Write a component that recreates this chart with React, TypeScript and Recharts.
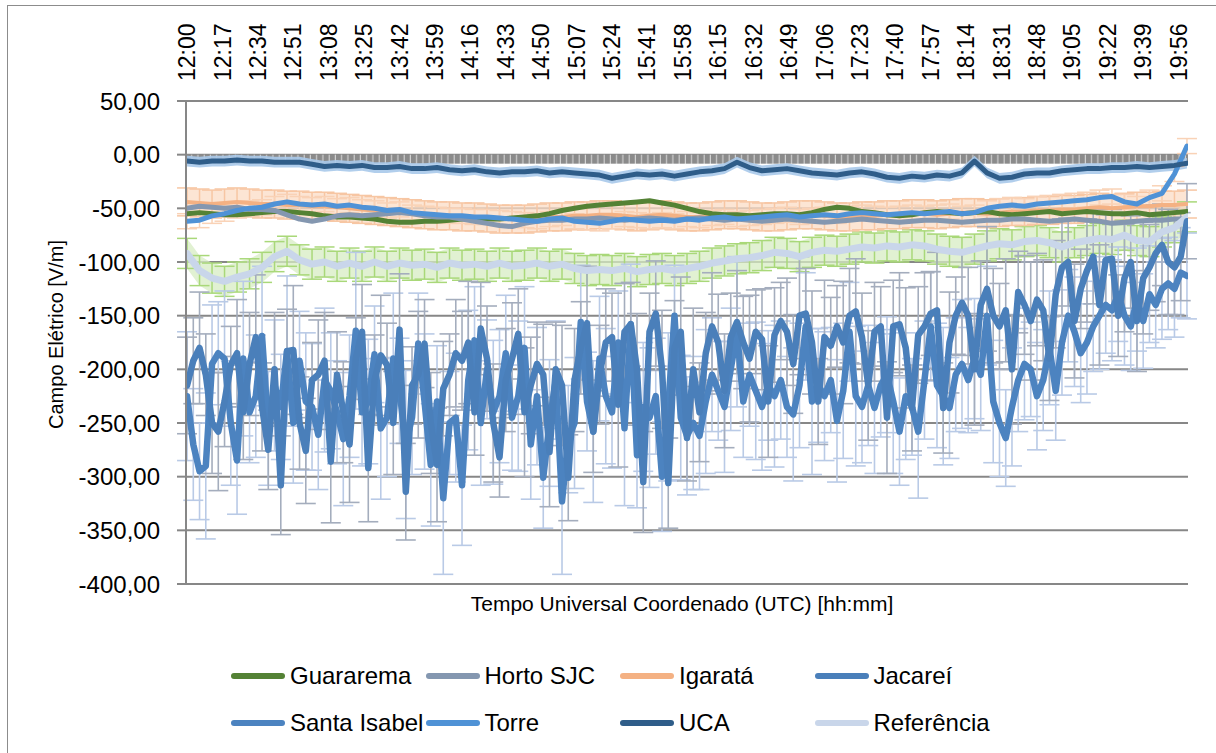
import React from 'react';
import {
  ComposedChart, Line, Area, XAxis, YAxis, CartesianGrid, ErrorBar, ReferenceArea, Legend, Label,
} from 'recharts';

const FONT = '"Liberation Sans", Arial, sans-serif';

// x tick labels (UTC)
const timeLabels = [
  '12:00', '12:17', '12:34', '12:51', '13:08', '13:25', '13:42', '13:59', '14:16', '14:33',
  '14:50', '15:07', '15:24', '15:41', '15:58', '16:15', '16:32', '16:49', '17:06', '17:23',
  '17:40', '17:57', '18:14', '18:31', '18:48', '19:05', '19:22', '19:39', '19:56',
];
const yTicks = [50, 0, -50, -100, -150, -200, -250, -300, -350, -400];

// smooth stations: one value every 6 minutes from 12:00 to 20:00
const SMOOTH_STEP = 6;
const guararema = [
  -55, -54, -55, -56, -56, -55, -54, -53, -53,
  -54, -55, -57, -58, -58, -59, -60, -62, -63,
  -63, -62, -62, -61, -60, -59, -60, -60, -59,
  -58, -57, -55, -52, -50, -48, -47, -46, -45,
  -44, -43, -45, -47, -50, -53, -55, -56, -56,
  -57, -56, -55, -55, -56, -54, -51, -49, -50,
  -53, -54, -56, -57, -56, -54, -53, -54, -55,
  -54, -53, -55, -56, -55, -54, -53, -55, -54,
  -53, -54, -55, -55, -54, -56, -55, -54, -53,
];
const hortoSJC = [
  -50, -48, -49, -50, -49, -51, -51, -52, -56,
  -60, -62, -60, -57, -56, -57, -56, -55, -54,
  -55, -57, -58, -58, -60, -62, -64, -66, -67,
  -64, -62, -61, -61, -60, -60, -59, -60, -61,
  -60, -59, -60, -61, -60, -59, -60, -61, -60,
  -61, -62, -61, -60, -61, -62, -63, -62, -61,
  -60, -61, -62, -63, -62, -61, -61, -62, -63,
  -62, -61, -61, -60, -60, -61, -62, -61, -60,
  -61, -62, -64, -63, -62, -61, -61, -60, -60,
];
const igarata = [
  -44, -45, -46, -45, -44, -45, -46, -46, -47,
  -47, -48, -48, -49, -50, -51, -52, -53, -54,
  -55, -56, -57, -57, -58, -58, -59, -60, -60,
  -60, -59, -58, -58, -57, -57, -56, -56, -57,
  -58, -57, -56, -57, -58, -58, -57, -56, -56,
  -57, -58, -58, -57, -56, -56, -57, -58, -58,
  -57, -57, -56, -56, -55, -55, -56, -55, -54,
  -54, -55, -54, -53, -53, -52, -52, -51, -51,
  -50, -49, -50, -49, -48, -48, -47, -47, -46,
];
const torre = [
  -62, -61, -57, -55, -52, -50, -49, -46, -44,
  -46, -47, -46, -48, -47, -49, -50, -52, -51,
  -54, -55, -56, -57, -57, -58, -58, -59, -60,
  -61, -62, -60, -59, -62, -63, -64, -62, -60,
  -61, -62, -61, -62, -60, -61, -59, -58, -60,
  -59, -58, -57, -56, -58, -57, -56, -57, -55,
  -54, -55, -56, -55, -54, -55, -54, -53, -55,
  -54, -50, -48, -47, -48, -46, -45, -44, -43,
  -42, -40, -39, -44, -46, -40, -36, -18, 8,
];
const uca = [
  -6, -7, -6, -6, -5, -6, -6, -7, -7,
  -7, -9, -11, -10, -11, -10, -12, -12, -11,
  -13, -13, -12, -14, -15, -14, -16, -17, -16,
  -16, -15, -17, -16, -17, -18, -19, -22, -20,
  -18, -19, -18, -20, -18, -16, -15, -13, -7,
  -12, -15, -14, -13, -15, -17, -18, -19, -17,
  -16, -18, -21, -22, -20, -21, -19, -20, -17,
  -6, -17, -22, -21, -18, -17, -17, -15, -14,
  -13, -13, -12, -12, -11, -12, -11, -10, -8,
];
const referencia = [
  -92, -108, -115, -118, -114, -111, -105, -95, -90,
  -98, -102, -100, -104, -101, -104, -100, -104, -101,
  -103, -102, -105, -101, -103, -102, -104, -101, -104,
  -103, -101, -104, -102, -106, -108, -107, -108, -106,
  -109, -107, -106, -108, -106, -104, -101, -99, -97,
  -96, -94, -91, -92, -95, -91, -89, -90, -88,
  -86, -87, -85, -86, -84, -85, -88, -90, -91,
  -88, -85, -83, -84, -81, -80, -82, -86, -82,
  -80, -78, -79, -75, -80, -81, -72, -68, -58,
];
const igarataErr = 13;
const torreErr = 7;
const ucaErr = 5;
const referenciaErr = 14;

// noisy stations: one value every 3 minutes from 12:00 to 20:00
const NOISY_STEP = 3;
const jacarei = [
  -215, -192, -180, -205, -250, -258, -230, -196, -185, -240,
  -195, -170, -235, -275, -200, -308, -183, -182, -250, -276,
  -210, -205, -192, -286, -205, -240, -270, -190, -165, -292,
  -210, -187, -196, -250, -163, -314, -215, -205, -176, -250,
  -289, -218, -205, -185, -192, -175, -240, -162, -190, -250,
  -282, -210, -190, -167, -240, -215, -195, -205, -277, -200,
  -215, -301, -210, -180, -157, -258, -205, -175, -170, -233,
  -165, -158, -200, -305, -165, -148, -200, -306, -180, -165,
  -264, -200, -240, -185, -160, -175, -220, -170, -156, -175,
  -190, -165, -172, -230, -168, -155, -165, -195, -150, -148,
  -175, -230, -170, -178, -160, -175, -150, -146, -170, -215,
  -165, -160, -245, -160, -158, -180, -236, -168, -160, -148,
  -145, -236, -175, -150, -138, -150, -200, -140, -125, -150,
  -160, -145, -200, -128, -140, -155, -135, -145, -190, -130,
  -105, -100, -155, -125, -108, -95, -140, -98, -97, -150,
  -115, -100, -155, -115, -105, -92, -84, -100, -105, -95,
  -62,
];
const santaIsabel = [
  -225, -270, -295, -290, -195, -185, -190, -250, -285, -190,
  -240, -225, -169, -255, -215, -235, -183, -250, -192, -230,
  -235, -261, -210, -220, -240, -265, -225, -164, -240, -230,
  -186, -255, -245, -190, -220, -270, -245, -176, -230, -289,
  -230, -320, -250, -245, -308, -210, -173, -250, -200, -240,
  -225, -185, -245, -225, -180, -270, -225, -301, -250, -210,
  -323, -265, -250, -156, -230, -258, -190, -225, -240, -175,
  -255, -158, -280, -235, -245, -225, -300, -235, -150, -245,
  -262, -250, -262, -230, -205, -220, -235, -200, -165, -230,
  -205, -220, -235, -215, -225, -210, -235, -242, -215, -160,
  -230, -215, -225, -210, -248, -220, -165, -225, -235, -215,
  -236, -215, -205, -230, -258, -225, -235, -258, -210, -160,
  -215, -225, -236, -205, -195, -210, -190, -205, -150, -230,
  -250, -264, -235, -210, -195, -200, -225, -210, -180, -220,
  -175, -150, -165, -185, -175, -160, -150, -140, -145, -130,
  -150, -160, -135, -155, -130, -140, -125, -120, -125, -110,
  -113,
];
const jacareiErr = [
  45, 40, 52, 38, 47, 55, 42, 36, 50, 44,
  48, 58, 41, 37, 53, 46, 39, 60, 43, 49,
  35, 51, 45, 57, 40, 47, 54, 38, 44, 50,
  42, 56, 39, 48, 52, 45, 36, 59, 41, 47,
  53, 44, 38, 50, 46, 57, 40, 43, 49, 55,
  37, 48, 52, 42, 60, 45, 39, 47, 51, 44,
  56, 40, 48, 43, 53, 38, 46, 50, 41, 58,
  45, 39, 52, 47, 36, 49, 55, 42, 44, 51,
  40, 57, 46, 38, 50, 45, 53, 41, 48, 43,
  59, 39, 47, 52, 44, 36, 50, 46, 55, 42,
  48, 40, 53, 45, 38, 57, 44, 49, 41, 51,
  46, 37, 52, 43, 48, 56, 40, 45, 50, 39,
  54, 42, 47, 36, 49, 45, 52, 41, 58, 44,
  40, 48, 51, 38, 46, 55, 43, 47, 39, 50,
  45, 41, 53, 37, 48, 44, 56, 42, 46, 38,
  50, 43, 47, 52, 40, 45, 38, 49, 44, 41,
  35,
];
const santaIsabelErr = [
  60, 52, 45, 68, 55, 48, 63, 58, 50, 72,
  47, 57, 65, 53, 61, 49, 70, 56, 46, 64,
  59, 51, 67, 54, 48, 62, 57, 73, 50, 58,
  45, 66, 55, 61, 49, 69, 53, 47, 63, 57,
  52, 71, 48, 60, 56, 65, 50, 58, 46, 67,
  62, 54, 49, 70, 57, 51, 64, 47, 59, 55,
  68, 50, 61, 53, 46, 66, 58, 63, 52, 48,
  72, 56, 49, 60, 65, 54, 51, 69, 47, 58,
  55, 62, 50, 67, 53, 46, 61, 57, 70, 52,
  48, 64, 59, 51, 66, 55, 47, 62, 58, 50,
  68, 53, 60, 49, 57, 63, 46, 65, 52, 56,
  61, 48, 54, 67, 50, 59, 45, 62, 55, 51,
  58, 64, 47, 53, 60, 49, 56, 52, 46, 57,
  50, 45, 55, 48, 52, 44, 50, 47, 53, 46,
  49, 43, 51, 46, 48, 42, 50, 45, 47, 44,
  46, 41, 48, 44, 45, 40, 47, 43, 45, 42,
  40,
];

const toMinutes = (s: string) => {
  const [h, mm] = s.split(':').map(Number);
  return (h - 12) * 60 + mm;
};
const tickMinutes = timeLabels.map(toMinutes);
const lastMinute = (referencia.length - 1) * SMOOTH_STEP;

type Row = { m: number; v: number; e: number; band: [number, number] };
const buildRows = (vals: number[], step: number, err: number | number[]): Row[] =>
  vals.map((v, i) => {
    const e = Array.isArray(err) ? err[i] : err;
    return { m: i * step, v, e, band: [v - e, v + e] };
  });

const guararemaRows = buildRows(guararema, SMOOTH_STEP, 0);
const hortoRows = buildRows(hortoSJC, SMOOTH_STEP, 0);
const igarataRows = buildRows(igarata, SMOOTH_STEP, igarataErr);
const torreRows = buildRows(torre, SMOOTH_STEP, torreErr);
const ucaRows = buildRows(uca, SMOOTH_STEP, ucaErr);
const referenciaRows = buildRows(referencia, SMOOTH_STEP, referenciaErr);
const jacareiRows = buildRows(jacarei, NOISY_STEP, jacareiErr);
const santaIsabelRows = buildRows(santaIsabel, NOISY_STEP, santaIsabelErr);

const COLORS = {
  guararema: '#548235',
  horto: '#8497b0',
  igarata: '#f4b183',
  jacarei: '#4a7fba',
  santaIsabel: '#4c83c0',
  torre: '#4f92d6',
  uca: '#2f5d89',
  referencia: '#c9d6ea',
};

const legendItems = [
  { name: 'Guararema', color: COLORS.guararema },
  { name: 'Horto SJC', color: COLORS.horto },
  { name: 'Igaratá', color: COLORS.igarata },
  { name: 'Jacareí', color: COLORS.jacarei },
  { name: 'Santa Isabel', color: COLORS.santaIsabel },
  { name: 'Torre', color: COLORS.torre },
  { name: 'UCA', color: COLORS.uca },
  { name: 'Referência', color: COLORS.referencia },
];

const fmtY = (v: number) => v.toFixed(2).replace('.', ',');

const TimeTick = (p: any) => {
  const idx = tickMinutes.indexOf(p.payload.value);
  return (
    <text
      x={p.x}
      y={p.y}
      transform={`rotate(-90 ${p.x} ${p.y})`}
      textAnchor="start"
      dy="0.35em"
      fontSize={23}
      fontFamily={FONT}
      fill="#000"
    >
      {timeLabels[idx]}
    </text>
  );
};

const LegendContent = () => (
  <div
    style={{
      display: 'grid',
      gridTemplateColumns: 'repeat(4, 194.5px)',
      gridAutoRows: '47px',
      fontFamily: FONT,
      fontSize: 24,
      color: '#000',
    }}
  >
    {legendItems.map((it) => (
      <div key={it.name} style={{ display: 'flex', alignItems: 'center', whiteSpace: 'nowrap' }}>
        <span
          style={{
            display: 'inline-block',
            width: 54,
            height: 6,
            borderRadius: 3,
            background: it.color,
            marginRight: 5,
          }}
        />
        <span>{it.name}</span>
      </div>
    ))}
  </div>
);

const ZeroBand = (p: any) => {
  const pw = (p.width / (lastMinute + 1)) * 3;
  return (
    <g>
      <defs>
        <pattern id="zeroTicks" patternUnits="userSpaceOnUse" x={p.x} y={p.y} width={pw} height={40}>
          <rect width={pw} height={40} fill="#8b8b8b" />
          <rect x={pw - 1.1} width={1} height={40} fill="#dcdcdc" />
        </pattern>
      </defs>
      <rect x={p.x} y={p.y} width={p.width} height={p.height} fill="url(#zeroTicks)" />
    </g>
  );
};

const YTitle = (p: any) => {
  const vb = p.viewBox || { x: 0, y: 101, width: 186, height: 483 };
  const cx = vb.x + 56;
  const cy = vb.y + vb.height / 2 - 8;
  return (
    <text
      x={cx}
      y={cy}
      transform={`rotate(-90 ${cx} ${cy})`}
      textAnchor="middle"
      dy="0.35em"
      fontSize={20}
      fontFamily={FONT}
      fill="#000"
    >
      Campo Elétrico [V/m]
    </text>
  );
};

const line = (rows: Row[], color: string, width: number, key: string) => (
  <Line
    key={key}
    data={rows}
    dataKey="v"
    stroke={color}
    strokeWidth={width}
    strokeLinejoin="round"
    strokeLinecap="round"
    dot={false}
    activeDot={false}
    legendType="none"
    isAnimationActive={false}
  />
);

const errLine = (rows: Row[], color: string, cap: number, sw: number, key: string) => (
  <Line
    key={key}
    data={rows}
    dataKey="v"
    stroke="none"
    dot={false}
    activeDot={false}
    legendType="none"
    isAnimationActive={false}
  >
    <ErrorBar dataKey="e" direction="y" width={cap} stroke={color} strokeWidth={sw} />
  </Line>
);

const band = (rows: Row[], color: string, opacity: number, key: string) => (
  <Area
    key={key}
    data={rows}
    dataKey="band"
    fill={color}
    fillOpacity={opacity}
    stroke="none"
    dot={false}
    activeDot={false}
    legendType="none"
    isAnimationActive={false}
  />
);

export default function App() {
  return (
    <div
      style={{
        position: 'absolute',
        left: 0,
        top: 0,
        width: 1216,
        height: 753,
        overflow: 'hidden',
        background: '#fff',
      }}
    >
      <div
        style={{
          position: 'absolute',
          left: 7,
          top: 5,
          width: 1209,
          height: 748,
          boxSizing: 'border-box',
          borderTop: '1px solid #8c8c8c',
          borderLeft: '1px solid #8c8c8c',
        }}
      />
      <div style={{ position: 'absolute', left: 0, top: 0 }}>
        <ComposedChart width={1216} height={753} margin={{ top: 0, right: 28, bottom: 129, left: 0 }}>
          <CartesianGrid horizontal vertical={false} stroke="#878787" strokeWidth={2} />
          <XAxis
            xAxisId={0}
            type="number"
            dataKey="m"
            orientation="top"
            height={101}
            domain={[-0.5, lastMinute + 0.5]}
            allowDataOverflow
            ticks={tickMinutes}
            interval={0}
            tick={<TimeTick />}
            tickSize={0}
            tickMargin={20}
            axisLine={false}
            tickLine={false}
          />
          <XAxis
            xAxisId="title"
            type="number"
            orientation="bottom"
            height={40}
            domain={[-0.5, lastMinute + 0.5]}
            allowDataOverflow
            tick={false}
            axisLine={false}
            tickLine={false}
          >
            <Label
              value="Tempo Universal Coordenado (UTC) [hh:mm]"
              position="center"
              dx={-5}
              fontSize={21}
              fontFamily={FONT}
              fill="#000"
            />
          </XAxis>
          <YAxis
            type="number"
            width={186}
            domain={[-400, 50]}
            allowDataOverflow
            ticks={yTicks}
            interval={0}
            tickFormatter={fmtY}
            tick={{ fontSize: 24, fill: '#000', fontFamily: FONT }}
            tickSize={9}
            tickMargin={17}
            axisLine={{ stroke: '#878787', strokeWidth: 2 }}
            tickLine={{ stroke: '#878787', strokeWidth: 2 }}
          >
            <Label content={<YTitle />} />
          </YAxis>
          <ReferenceArea y1={0} y2={-8.4} ifOverflow="visible" shape={<ZeroBand />} />

          {band(referenciaRows, '#d7ecc3', 0.75, 'refBand')}
          {band(igarataRows, '#fbdcc6', 0.75, 'igaBand')}
          {band(ucaRows, '#a9c9ea', 0.9, 'ucaBand')}

          {errLine(referenciaRows, '#a9d879', 10, 1.5, 'refErr')}
          {errLine(igarataRows, '#f7c6a3', 10, 1.5, 'igaErr')}
          {errLine(torreRows, '#f9d2b6', 10, 1.5, 'torErr')}
          {errLine(santaIsabelRows, '#b9cae6', 10, 1.6, 'siErr')}
          {errLine(jacareiRows, '#a4adbd', 10, 1.6, 'jaErr')}

          {line(igarataRows, COLORS.igarata, 4, 'igaLine')}
          {line(guararemaRows, COLORS.guararema, 5, 'guaLine')}
          {line(hortoRows, COLORS.horto, 5, 'horLine')}
          {line(torreRows, COLORS.torre, 5, 'torLine')}
          {line(ucaRows, COLORS.uca, 5, 'ucaLine')}
          {line(referenciaRows, COLORS.referencia, 7, 'refLine')}
          {line(santaIsabelRows, COLORS.santaIsabel, 6.5, 'siLine')}
          {line(jacareiRows, COLORS.jacarei, 6.5, 'jaLine')}

          <Legend
            content={<LegendContent />}
            layout="horizontal"
            verticalAlign="middle"
            align="center"
            wrapperStyle={{ position: 'absolute', left: 231, top: 652, width: 800, height: 94 }}
          />
        </ComposedChart>
      </div>
    </div>
  );
}
